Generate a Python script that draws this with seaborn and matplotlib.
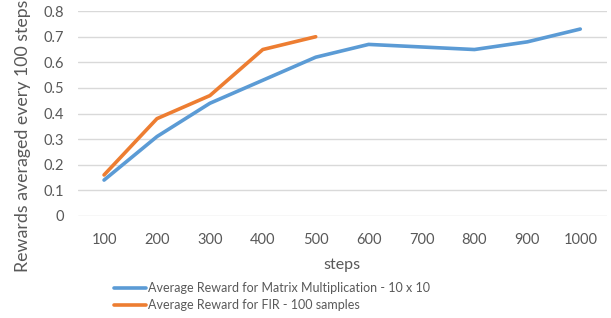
import pandas as pd
import numpy as np
import matplotlib.pyplot as plt
import seaborn as sns

# datos
steps = ["100", "200", "300", "400", "500", "600", "700", "800", "900", "1000"]
matrix_reward = [0.14, 0.31, 0.44, 0.53, 0.62, 0.67, 0.66, 0.65, 0.68, 0.73]
fir_reward = [0.16, 0.38, 0.47, 0.65, 0.70]

label_matrix = "Average Reward for Matrix Multiplication - 10 x 10"
label_fir = "Average Reward for FIR - 100 samples"

df = pd.concat([
    pd.DataFrame({"steps": steps, "reward": matrix_reward, "serie": label_matrix}),
    pd.DataFrame({"steps": steps[:len(fir_reward)], "reward": fir_reward, "serie": label_fir}),
])

sns.set_theme(style="white")
plt.rcParams["font.family"] = ["Lato", "DejaVu Sans"]
text_color = "#595959"

fig = plt.figure(figsize=(6.11, 3.18), dpi=100)
ax = fig.add_axes([0.127, 0.321, 0.866, 0.644])

sns.lineplot(data=df, x="steps", y="reward", hue="serie", sort=False,
             palette=["#5B9BD5", "#ED7D31"], linewidth=2.6, ax=ax)

ax.set_xlim(-0.5, len(steps) - 0.5)
ax.set_ylim(0, 0.8)
ax.set_yticks(np.arange(0, 0.81, 0.1))
ax.set_yticklabels(["0"] + [f"{v:.1f}" for v in np.arange(0.1, 0.81, 0.1)])
ax.yaxis.grid(True, color="#D9D9D9", linewidth=1)
ax.set_axisbelow(True)
for s in ax.spines.values():
    s.set_visible(False)
ax.tick_params(axis="both", length=0, labelsize=10.5, colors=text_color)
ax.tick_params(axis="x", pad=12)
ax.tick_params(axis="y", pad=10)

ax.set_xlabel("steps", fontsize=11.5, color=text_color, labelpad=8)
ax.set_ylabel("")
# etiqueta del eje y centrada en toda la figura
fig.text(0.037, 0.573, "Rewards averaged every 100 steps", rotation=90,
         ha="center", va="center", fontsize=12.8, color=text_color)

handles, labels = ax.get_legend_handles_labels()
ax.get_legend().remove()
leg = fig.legend(handles, labels, loc="upper left", bbox_to_anchor=(0.186, 0.113),
                 ncol=1, frameon=False, fontsize=9, handlelength=2.6,
                 handletextpad=0.15, labelspacing=0.42, borderaxespad=0, borderpad=0)
for t in leg.get_texts():
    t.set_color(text_color)

fig.savefig("out.png", dpi=100)
